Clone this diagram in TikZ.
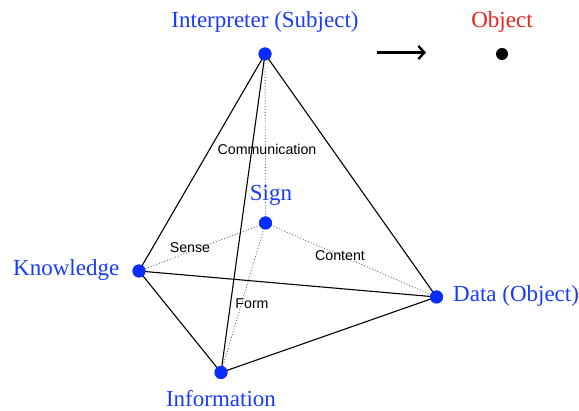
\documentclass[tikz,border=0pt]{standalone}
\usepackage{fontspec}
\setmainfont{Liberation Serif}
\setsansfont{Liberation Sans}
\usetikzlibrary{arrows.meta}
\definecolor{vblue}{RGB}{25,60,250}
\definecolor{dblue}{RGB}{10,45,255}
\definecolor{vred}{RGB}{235,35,30}
\tikzset{
  vertex/.style={circle,fill=dblue,inner sep=0pt,minimum size=13pt},
  blackdot/.style={circle,fill=black,inner sep=0pt,minimum size=12pt},
  biglabel/.style={font=\fontsize{23}{27}\selectfont,text=vblue,inner sep=0pt},
  redlabel/.style={font=\fontsize{23}{27}\selectfont,text=vred,inner sep=0pt},
  edgelabel/.style={font=\sffamily\fontsize{14.2}{17}\selectfont,inner sep=0pt},
  solidedge/.style={line width=1.1pt,black},
  dotedge/.style={line width=0.9pt,black!60,dotted},
}
\begin{document}
\begin{tikzpicture}[x=1pt,y=-1pt]
\useasboundingbox (0,0) rectangle (579,411);
% vertices
\node[vertex] (I) at (265,54) {};
\node[vertex] (S) at (265.5,223) {};
\node[vertex] (K) at (139,271) {};
\node[vertex] (D) at (436.5,297) {};
\node[vertex] (F) at (221,372.5) {};
\node[blackdot] (O) at (502,54) {};
% dotted edges
\draw[dotedge] (I.center) -- (S.center);
\draw[dotedge] (S.center) -- (K.center);
\draw[dotedge] (S.center) -- (D.center);
\draw[dotedge] (S.center) -- (F.center);
% solid edges
\draw[solidedge] (I.center) -- (K.center);
\draw[solidedge] (I.center) -- (F.center);
\draw[solidedge] (I.center) -- (D.center);
\draw[solidedge] (K.center) -- (D.center);
\draw[solidedge] (K.center) -- (F.center);
\draw[solidedge] (F.center) -- (D.center);
% redraw vertices on top
\foreach \v in {I,S,K,D,F} \fill[dblue] (\v.center) circle (6.5pt);
% arrow
\coordinate (a1) at (377,52.5);
\coordinate (a2) at (426,52.5);
\draw[line width=2.4pt,-{Straight Barb[length=6pt,width=13pt]}] (a1) -- (a2);
% labels
\node[biglabel] (lI) at (265,22) {Interpreter (Subject)};
\node[redlabel] (lO) at (502,22) {Object};
\node[biglabel] (lS) at (271,195) {Sign};
\node[biglabel,anchor=west] (lK) at (13,270) {Knowledge};
\node[biglabel,anchor=west] (lD) at (453,296) {Data (Object)};
\node[biglabel] (lF) at (221,398.5) {Information};
% edge labels
\node[edgelabel] (eC) at (267,149) {Communication};
\node[edgelabel] (eS) at (190,248) {Sense};
\node[edgelabel] (eCo) at (340,256) {Content};
\node[edgelabel] (eF) at (252,304) {Form};
\end{tikzpicture}
\end{document}
